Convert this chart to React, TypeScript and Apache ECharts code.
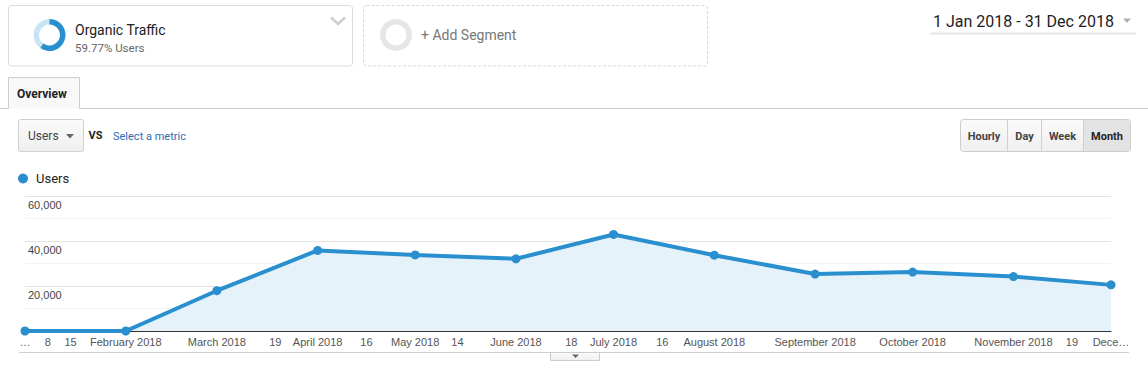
import React, { useEffect, useRef } from "react";
import * as echarts from "echarts";

// ---- data ----
const monthStarts = [
  "2018-01-01", "2018-02-01", "2018-03-01", "2018-04-01", "2018-05-01", "2018-06-01",
  "2018-07-01", "2018-08-01", "2018-09-01", "2018-10-01", "2018-11-01", "2018-12-01",
];
const users = [0, 0, 17900, 35800, 33800, 32100, 42900, 33700, 25300, 26200, 24200, 20500];

const tickDates = [
  "2018-01-01", "2018-01-08", "2018-01-15", "2018-02-01", "2018-03-01", "2018-03-19",
  "2018-04-01", "2018-04-16", "2018-05-01", "2018-05-14", "2018-06-01", "2018-06-18",
  "2018-07-01", "2018-07-16", "2018-08-01", "2018-09-01", "2018-10-01", "2018-11-01",
  "2018-11-19", "2018-12-01",
];
const tickLabels = [
  "…", "8", "15", "February 2018", "March 2018", "19", "April 2018", "16", "May 2018", "14",
  "June 2018", "18", "July 2018", "16", "August 2018", "September 2018", "October 2018",
  "November 2018", "19", "Dece…",
];

const yMax = 60000;
const yStep = 10000;
const segmentName = "Organic Traffic";
const segmentShare = 59.77;
const dateRange = "1 Jan 2018 - 31 Dec 2018";
const granularities = ["Hourly", "Day", "Week", "Month"];

// ---- helpers ----
const DAY = 86400000;
const yearStart = Date.parse("2018-01-01");
const toDay = (d: string) => Math.round((Date.parse(d) - yearStart) / DAY);
const tickDays = tickDates.map(toDay);
const seriesData = monthStarts.map((d, i) => [toDay(d), users[i]]);

const BLUE = "#2a8fcf";
const ROBOTO = "Roboto, 'Noto Sans', sans-serif";
const ARIAL = "'Liberation Sans', Arial, sans-serif";

function txt(x: number, y: number, text: string, o: any = {}) {
  return {
    type: "text",
    x,
    y,
    silent: true,
    style: {
      text,
      fill: o.fill || "#222",
      fontSize: o.size || 12,
      fontFamily: o.family || ROBOTO,
      fontWeight: o.weight || "normal",
      textAlign: o.align || "left",
      textVerticalAlign: "middle",
    },
  };
}

export default function App() {
  const ref = useRef<HTMLDivElement>(null);
  useEffect(() => {
    if (!ref.current) return;
    const chart = echarts.init(ref.current, null, { renderer: "svg" });
    const btnGrad = new echarts.graphic.LinearGradient(0, 0, 0, 1, [
      { offset: 0, color: "#fbfbfb" },
      { offset: 1, color: "#efefef" },
    ]);
    const btnEdges = [960.5, 1007.5, 1041.5, 1083.5, 1130.5];
    const shareAngle = (segmentShare / 100) * Math.PI * 2;

    const graphic: any[] = [
      // segment box 1
      { type: "rect", silent: true, shape: { x: 8.5, y: 5.5, width: 344, height: 60.5, r: 3 }, style: { fill: "#fff", stroke: "#dcdcdc", lineWidth: 1 } },
      { type: "ring", silent: true, shape: { cx: 49.5, cy: 35, r: 16, r0: 10.5 }, style: { fill: "#c8e4f4" } },
      { type: "sector", silent: true, shape: { cx: 49.5, cy: 35, r: 16, r0: 10.5, startAngle: -Math.PI / 2, endAngle: -Math.PI / 2 + shareAngle, clockwise: true }, style: { fill: BLUE } },
      txt(75, 30, segmentName, { size: 14, fill: "#222" }),
      txt(75, 48, segmentShare.toFixed(2) + "% Users", { size: 11.5, fill: "#666" }),
      { type: "polyline", silent: true, shape: { points: [[331, 17.5], [338, 24], [345, 17.5]] }, style: { stroke: "#cfcfcf", lineWidth: 2.5, fill: null } },
      // segment box 2
      { type: "rect", silent: true, shape: { x: 363.5, y: 5.5, width: 344, height: 60.5, r: 3 }, style: { fill: "none", stroke: "#d8d8d8", lineWidth: 1, lineDash: [3, 2] } },
      { type: "ring", silent: true, shape: { cx: 396, cy: 35, r: 16, r0: 10.5 }, style: { fill: "#e6e6e6" } },
      txt(421, 35, "+ Add Segment", { size: 14, fill: "#777" }),
      // date range
      txt(933, 21, dateRange, { size: 16, fill: "#222" }),
      { type: "polygon", silent: true, shape: { points: [[1123, 18.5], [1131, 18.5], [1127, 23]] }, style: { fill: "#b0b0b0" } },
      { type: "line", silent: true, shape: { x1: 930, y1: 33.5, x2: 1136, y2: 33.5 }, style: { stroke: "#e6e6e6", lineWidth: 2 } },
      // tab row
      { type: "line", silent: true, shape: { x1: 0, y1: 108.5, x2: 8.5, y2: 108.5 }, style: { stroke: "#cccccc", lineWidth: 1 } },
      { type: "line", silent: true, shape: { x1: 79.5, y1: 108.5, x2: 1148, y2: 108.5 }, style: { stroke: "#cccccc", lineWidth: 1 } },
      { type: "rect", silent: true, shape: { x: 8.5, y: 77.5, width: 71, height: 31 }, style: { fill: "#f8f8f8" } },
      { type: "polyline", silent: true, shape: { points: [[8.5, 108.5], [8.5, 77.5], [79.5, 77.5], [79.5, 108.5]] }, style: { stroke: "#cccccc", lineWidth: 1, fill: null } },
      txt(17, 93.5, "Overview", { size: 12, weight: "bold", fill: "#222" }),
      // metric selector
      { type: "rect", silent: true, shape: { x: 18.5, y: 119.5, width: 65, height: 32, r: 2 }, style: { fill: btnGrad, stroke: "#d0d0d0", lineWidth: 1 } },
      txt(28, 136, "Users", { size: 12, fill: "#444" }),
      { type: "polygon", silent: true, shape: { points: [[66, 134], [74, 134], [70, 138.5]] }, style: { fill: "#666" } },
      txt(88.5, 135, "VS", { size: 11, weight: "bold", fill: "#222" }),
      txt(113, 136, "Select a metric", { size: 11, fill: "#2a6db5" }),
      // granularity buttons
      { type: "rect", silent: true, shape: { x: 960.5, y: 119.5, width: 170, height: 32, r: 3 }, style: { fill: btnGrad, stroke: "#cccccc", lineWidth: 1 } },
      { type: "rect", silent: true, shape: { x: 1084, y: 120, width: 46, height: 31, r: [0, 3, 3, 0] }, style: { fill: "#e3e3e3" } },
      ...btnEdges.slice(1, 4).map((x) => ({ type: "line", silent: true, shape: { x1: x, y1: 120, x2: x, y2: 151 }, style: { stroke: "#d0d0d0", lineWidth: 1 } })),
      ...granularities.map((g, i) => txt((btnEdges[i] + btnEdges[i + 1]) / 2, 136, g, { size: 11, weight: "bold", fill: i === 3 ? "#222" : "#444", align: "center" })),
      // bottom rule + toggle tab
      { type: "line", silent: true, shape: { x1: 19, y1: 352.5, x2: 1129, y2: 352.5 }, style: { stroke: "#d0d0d0", lineWidth: 1 } },
      { type: "rect", silent: true, shape: { x: 550.5, y: 352.5, width: 49, height: 8 }, style: { fill: btnGrad, stroke: "#cccccc", lineWidth: 1 } },
      { type: "polygon", silent: true, shape: { points: [[572, 354.5], [579, 354.5], [575.5, 358]] }, style: { fill: "#666" } },
    ];

    chart.setOption({
      animation: false,
      backgroundColor: "#ffffff",
      legend: {
        data: [{ name: "Users", icon: "circle" }],
        left: 13,
        top: 167,
        itemWidth: 10,
        itemHeight: 10,
        textStyle: { fontSize: 13, color: "#222", fontFamily: ROBOTO, padding: [0, 0, 0, 3] },
      },
      grid: { left: 25, right: 37, top: 196, bottom: 39, containLabel: false },
      xAxis: {
        type: "value",
        min: 0,
        max: toDay(monthStarts[monthStarts.length - 1]),
        axisLine: { show: true, lineStyle: { color: "#333", width: 1 } },
        axisTick: { show: false },
        splitLine: { show: false },
        axisLabel: {
          customValues: tickDays,
          margin: 5,
          fontSize: 11,
          color: "#555",
          fontFamily: ARIAL,
          hideOverlap: false,
          showMinLabel: true,
          showMaxLabel: true,
          formatter: (v: number) => {
            const i = tickDays.findIndex((d) => Math.abs(d - v) < 0.01);
            return i >= 0 ? tickLabels[i] : "";
          },
        },
      },
      yAxis: {
        type: "value",
        min: 0,
        max: yMax,
        interval: yStep,
        axisLine: { show: false },
        axisTick: { show: false },
        splitLine: { show: true, lineStyle: { color: ["#e4e4e4", "#f3f3f3"], width: 1 } },
        axisLabel: {
          inside: true,
          margin: 3,
          verticalAlign: "top",
          padding: [3, 0, 0, 0],
          fontSize: 11,
          color: "#444",
          fontFamily: ARIAL,
          formatter: (v: number) => (v > 0 && v % 20000 === 0 ? v.toLocaleString("en-US") : ""),
        },
      },
      series: [
        {
          name: "Users",
          type: "line",
          data: seriesData,
          symbol: "circle",
          symbolSize: 9,
          showSymbol: true,
          lineStyle: { color: BLUE, width: 4 },
          itemStyle: { color: BLUE },
          areaStyle: { color: "#e5f2f9", opacity: 1 },
        },
      ],
      graphic,
    });
    return () => chart.dispose();
  }, []);
  return <div ref={ref} style={{ position: "fixed", left: 0, top: 0, width: 1148, height: 370, background: "#fff" }} />;
}
